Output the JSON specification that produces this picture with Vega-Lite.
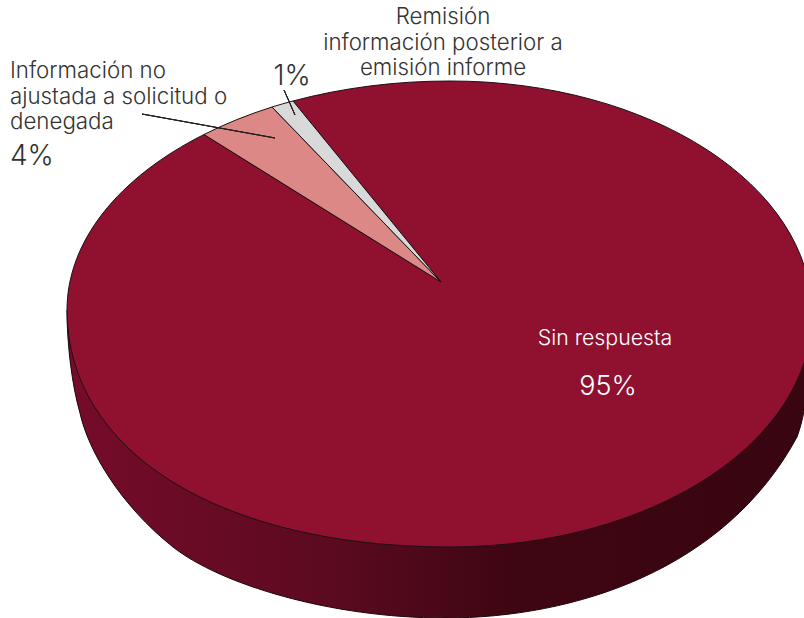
{"$schema":"https://vega.github.io/schema/vega-lite/v6.json","width":804,"height":618,"padding":0,"autosize":{"type":"none"},"background":"#ffffff","config":{"view":{"stroke":null},"text":{"font":"Inter","fontWeight":300,"fontSize":22.3,"fill":"#333333","baseline":"alphabetic","lineBreak":"\n","lineHeight":25.5}},"data":{"values":[{"category":"Sin respuesta","share":0.95,"label":"Sin respuesta"},{"category":"Información no ajustada a solicitud o denegada","share":0.04,"label":"Información no\najustada a solicitud o\ndenegada"},{"category":"Remisión información posterior a emisión informe","share":0.01,"label":"Remisión\ninformación posterior a\nemisión informe"}]},"layer":[{"transform":[{"filter":"datum.category === 'Sin respuesta'"}],"mark":{"type":"point","filled":true,"opacity":1,"size":4,"fill":{"gradient":"linear","x1":0,"y1":0,"x2":1,"y2":0,"stops":[{"offset":0,"color":"#760c29"},{"offset":0.35,"color":"#5c0a20"},{"offset":0.6,"color":"#3f0612"},{"offset":1,"color":"#380510"}]},"stroke":"#1c0508","strokeWidth":1,"shape":"M67,310 C67,345 72,385 80,413 C88,450 120,505 173,547 C220,584 330,618 445,618 C575,618 725,570 797,437 C803,420 806,405 806,385 L806,300 Z"},"encoding":{"x":{"datum":0,"type":"quantitative","scale":{"domain":[0,804]},"axis":null},"y":{"datum":0,"type":"quantitative","scale":{"domain":[0,618],"reverse":true},"axis":null}}},{"mark":{"type":"point","filled":true,"opacity":1,"size":4,"stroke":"#1c1014","strokeWidth":1},"encoding":{"x":{"datum":0,"type":"quantitative","scale":{"domain":[0,804]},"axis":null},"y":{"datum":0,"type":"quantitative","scale":{"domain":[0,618],"reverse":true},"axis":null},"color":{"field":"category","type":"nominal","scale":{"domain":["Sin respuesta","Información no ajustada a solicitud o denegada","Remisión información posterior a emisión informe"],"range":["#8f102f","#dc8886","#d9d9d9"]},"legend":null},"shape":{"field":"category","type":"nominal","scale":{"domain":["Sin respuesta","Información no ajustada a solicitud o denegada","Remisión información posterior a emisión informe"],"range":["M441,282 L293,101 A383,229 0 0 1 450,81 C650,81 812,185 812,314 C812,443 650,547 450,547 C220,547 67,452 67,310 A383,229 0 0 1 204,134.5 Z","M441,282 L204,134.5 A383,229 0 0 1 272,107 Z","M441,282 L272,107 A383,229 0 0 1 293,101 Z"]},"legend":null}}},{"mark":{"type":"rule","stroke":"#222222","strokeWidth":1},"encoding":{"x":{"datum":142,"type":"quantitative","scale":{"domain":[0,804]},"axis":null},"y":{"datum":114,"type":"quantitative","scale":{"domain":[0,618],"reverse":true},"axis":null},"x2":{"datum":275},"y2":{"datum":138}}},{"mark":{"type":"rule","stroke":"#222222","strokeWidth":1},"encoding":{"x":{"datum":284,"type":"quantitative","scale":{"domain":[0,804]},"axis":null},"y":{"datum":90,"type":"quantitative","scale":{"domain":[0,618],"reverse":true},"axis":null},"x2":{"datum":295},"y2":{"datum":115}}},{"transform":[{"filter":"datum.share === 0.04"}],"mark":{"type":"text","align":"left"},"encoding":{"x":{"datum":10,"type":"quantitative","scale":{"domain":[0,804]},"axis":null},"y":{"datum":78,"type":"quantitative","scale":{"domain":[0,618],"reverse":true},"axis":null},"text":{"field":"label"}}},{"transform":[{"filter":"datum.share === 0.01"}],"mark":{"type":"text","align":"center"},"encoding":{"x":{"datum":443,"type":"quantitative","scale":{"domain":[0,804]},"axis":null},"y":{"datum":24,"type":"quantitative","scale":{"domain":[0,618],"reverse":true},"axis":null},"text":{"field":"label"}}},{"transform":[{"filter":"datum.share === 0.95"}],"mark":{"type":"text","align":"center","fill":"#ffffff","fontSize":21.3},"encoding":{"x":{"datum":605,"type":"quantitative","scale":{"domain":[0,804]},"axis":null},"y":{"datum":345,"type":"quantitative","scale":{"domain":[0,618],"reverse":true},"axis":null},"text":{"field":"label"}}},{"transform":[{"filter":"datum.share === 0.04"}],"mark":{"type":"text","align":"left","fontSize":28},"encoding":{"x":{"datum":10,"type":"quantitative","scale":{"domain":[0,804]},"axis":null},"y":{"datum":165,"type":"quantitative","scale":{"domain":[0,618],"reverse":true},"axis":null},"text":{"field":"share","format":".0%"}}},{"transform":[{"filter":"datum.share === 0.01"}],"mark":{"type":"text","align":"center","fontSize":28},"encoding":{"x":{"datum":292,"type":"quantitative","scale":{"domain":[0,804]},"axis":null},"y":{"datum":85,"type":"quantitative","scale":{"domain":[0,618],"reverse":true},"axis":null},"text":{"field":"share","format":".0%"}}},{"transform":[{"filter":"datum.share === 0.95"}],"mark":{"type":"text","align":"center","fontSize":27,"fill":"#ffffff"},"encoding":{"x":{"datum":608,"type":"quantitative","scale":{"domain":[0,804]},"axis":null},"y":{"datum":395,"type":"quantitative","scale":{"domain":[0,618],"reverse":true},"axis":null},"text":{"field":"share","format":".0%"}}}]}
